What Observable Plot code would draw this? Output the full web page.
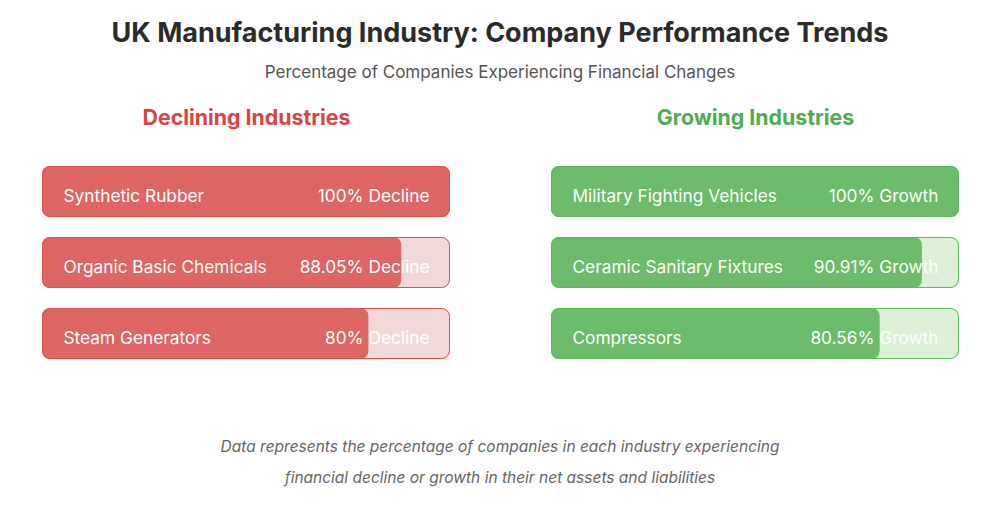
<!DOCTYPE html>
<html>
<head>
<meta charset="utf-8">
<script src="https://cdn.jsdelivr.net/npm/d3@7"></script>
<script src="https://cdn.jsdelivr.net/npm/@observablehq/plot@0.6"></script>
<style>
  html, body { margin: 0; padding: 0; background: #ffffff; }
  body { width: 1000px; height: 514px; overflow: hidden; font-family: Inter, "Noto Sans", sans-serif; }
  #title { margin-top: 16px; height: 34px; line-height: 34px; text-align: center; font-size: 27px; font-weight: 700; color: #2b2b2b; }
  #subtitle { margin-top: 10px; height: 24px; line-height: 24px; text-align: center; font-size: 17px; color: #555; }
  #chart { margin-top: 6px; height: 310px; }
  #chart svg { display: block; }
  #caption { margin-top: 31px; text-align: center; font-size: 15.5px; line-height: 31px; font-style: italic; color: #666; }
</style>
</head>
<body>
<div id="title">UK Manufacturing Industry: Company Performance Trends</div>
<div id="subtitle">Percentage of Companies Experiencing Financial Changes</div>
<div id="chart"></div>
<div id="caption">Data represents the percentage of companies in each industry experiencing<br>financial decline or growth in their net assets and liabilities</div>
<script>
// Data
const sides = ["Declining", "Growing"];
const sideTitles = ["Declining Industries", "Growing Industries"];
const sideWords = ["Decline", "Growth"];
const decliningIndustries = ["Synthetic Rubber", "Organic Basic Chemicals", "Steam Generators"];
const decliningValues = [100, 88.05, 80];
const growingIndustries = ["Military Fighting Vehicles", "Ceramic Sanitary Fixtures", "Compressors"];
const growingValues = [100, 90.91, 80.56];

const colors = {
  Declining: { bar: "#dd6563", track: "#f1d9d9", stroke: "#d9534f", title: "#d94340" },
  Growing:   { bar: "#6cbb6a", track: "#dcf0d6", stroke: "#5cb85c", title: "#4cae4f" }
};

const rows = [];
decliningIndustries.forEach((name, i) => rows.push({ side: "Declining", rank: i, name, value: decliningValues[i], word: sideWords[0] }));
growingIndustries.forEach((name, i) => rows.push({ side: "Growing", rank: i, name, value: growingValues[i], word: sideWords[1] }));
const heads = sides.map((s, i) => ({ side: s, title: sideTitles[i] }));

const chart = Plot.plot({
  width: 1000,
  height: 310,
  marginLeft: 41,
  marginRight: 40,
  marginTop: 75,
  marginBottom: 41,
  style: { fontFamily: "Inter, 'Noto Sans', sans-serif", background: "transparent" },
  fx: { domain: sides, axis: null, paddingInner: 0.198, paddingOuter: 0 },
  x: { domain: [0, 100], axis: null },
  y: { type: "band", domain: [0, 1, 2], axis: null, paddingInner: 0.287, paddingOuter: 0 },
  marks: [
    Plot.barX(rows, { fx: "side", y: "rank", x1: 0, x2: 100, fill: d => colors[d.side].track, rx: 8 }),
    Plot.barX(rows, { fx: "side", y: "rank", x1: 0, x2: "value", fill: d => colors[d.side].bar, rx: 8 }),
    Plot.barX(rows, { fx: "side", y: "rank", x1: 0, x2: 100, fill: "none", stroke: d => colors[d.side].stroke, strokeWidth: 1, rx: 8, insetTop: 0.5, insetBottom: 0.5, insetLeft: 0.5, insetRight: 0.5 }),
    Plot.text(rows, { fx: "side", y: "rank", x: 0, dx: 21, dy: 4, text: "name", textAnchor: "start", fill: "white", fontSize: 17.3 }),
    Plot.text(rows, { fx: "side", y: "rank", x: 100, dx: -21, dy: 4, text: d => `${d.value}% ${d.word}`, textAnchor: "end", fill: "white", fontSize: 17.3 }),
    Plot.text(heads, { fx: "side", frameAnchor: "top", dy: -47, text: "title", fill: d => colors[d.side].title, fontSize: 21.3, fontWeight: 700, lineAnchor: "middle" })
  ]
});
document.getElementById("chart").appendChild(chart);
</script>
</body>
</html>
